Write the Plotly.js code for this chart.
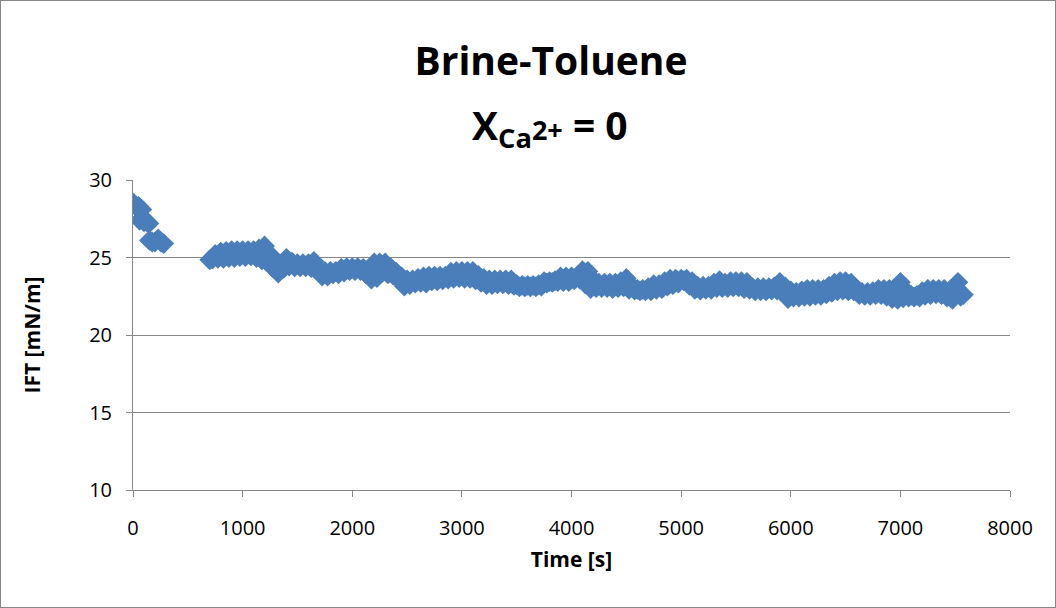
<!DOCTYPE html>
<html>
<head>
<meta charset="utf-8">
<script src="https://cdn.plot.ly/plotly-3.0.1.min.js"></script>
<style>
html,body{margin:0;padding:0;background:#fff;}
#chart{width:1054px;height:606px;border:1px solid #868686;}
</style>
</head>
<body>
<div id="chart"></div>
<script>
// Time [s]
const timeS = [
  5,25,50,60,80,100,125,145,150,175,200,230,255,280,
  700,725,750,775,800,825,850,875,900,925,
  950,975,1000,1025,1050,1075,1100,1125,1150,1175,
  1200,1225,1250,1275,1300,1325,1350,1375,1400,1425,
  1450,1475,1500,1525,1550,1575,1600,1625,1650,1675,
  1700,1725,1750,1775,1800,1825,1850,1875,1900,1925,
  1950,1975,2000,2025,2050,2075,2100,2125,2150,2175,
  2200,2225,2250,2275,2300,2325,2350,2375,2400,2425,
  2450,2475,2500,2525,2550,2575,2600,2625,2650,2675,
  2700,2725,2750,2775,2800,2825,2850,2875,2900,2925,
  2950,2975,3000,3025,3050,3075,3100,3125,3150,3175,
  3200,3225,3250,3275,3300,3325,3350,3375,3400,3425,
  3450,3475,3500,3525,3550,3575,3600,3625,3650,3675,
  3700,3725,3750,3775,3800,3825,3850,3875,3900,3925,
  3950,3975,4000,4025,4050,4075,4100,4125,4150,4175,
  4200,4225,4250,4275,4300,4325,4350,4375,4400,4425,
  4450,4475,4500,4525,4550,4575,4600,4625,4650,4675,
  4700,4725,4750,4775,4800,4825,4850,4875,4900,4925,
  4950,4975,5000,5025,5050,5075,5100,5125,5150,5175,
  5200,5225,5250,5275,5300,5325,5350,5375,5400,5425,
  5450,5475,5500,5525,5550,5575,5600,5625,5650,5675,
  5700,5725,5750,5775,5800,5825,5850,5875,5900,5925,
  5950,5975,6000,6025,6050,6075,6100,6125,6150,6175,
  6200,6225,6250,6275,6300,6325,6350,6375,6400,6425,
  6450,6475,6500,6525,6550,6575,6600,6625,6650,6675,
  6700,6725,6750,6775,6800,6825,6850,6875,6900,6925,
  6950,6975,7000,7025,7050,7075,7100,7125,7150,7175,
  7200,7225,7250,7275,7300,7325,7350,7375,7400,7425,
  7450,7475,7500,7525,7550,7575
];
// IFT [mN/m]
const iftValues = [
  28.5,28.3,28.3,27.4,28.1,27.3,27.3,27.2,26.1,26.0,26.0,26.2,26.0,25.9,
  24.85,24.9,25.2,24.95,25.35,24.95,25.4,25.0,25.45,25.0,
  25.45,25.05,25.45,25.05,25.45,25.1,25.45,25.0,25.55,24.85,
  25.75,24.7,25.2,24.35,24.55,24.0,24.55,24.3,24.95,24.45,
  24.7,24.4,24.6,24.4,24.6,24.4,24.6,24.35,24.75,24.2,
  24.15,23.8,24.1,23.8,24.1,23.95,24.1,23.95,24.3,24.05,
  24.35,24.15,24.35,24.15,24.35,24.15,24.3,23.95,24.25,23.6,
  24.65,23.7,24.65,24.05,24.65,23.95,24.35,23.85,24.05,23.6,
  23.75,23.15,23.55,23.25,23.55,23.35,23.65,23.4,23.75,23.35,
  23.8,23.5,23.8,23.5,23.8,23.55,23.8,23.6,24.05,23.65,
  24.1,23.7,24.1,23.65,24.1,23.65,24.1,23.55,23.85,23.4,
  23.65,23.25,23.55,23.25,23.55,23.3,23.55,23.3,23.55,23.25,
  23.55,23.2,23.25,23.1,23.2,23.1,23.2,23.1,23.2,23.1,
  23.25,23.15,23.45,23.35,23.45,23.4,23.5,23.45,23.75,23.45,
  23.75,23.45,23.75,23.55,23.75,23.6,24.15,23.3,24.1,23.0,
  23.55,23.05,23.35,23.05,23.35,23.05,23.35,23.0,23.35,23.05,
  23.45,23.1,23.65,22.95,23.15,22.9,22.95,22.85,22.95,22.85,
  23.05,22.85,23.25,22.95,23.25,23.0,23.45,23.15,23.6,23.25,
  23.6,23.35,23.6,23.5,23.6,23.2,23.45,22.95,23.15,22.9,
  23.15,22.95,23.15,22.95,23.35,23.05,23.5,23.05,23.35,23.05,
  23.45,23.1,23.45,23.1,23.45,23.0,23.4,22.95,23.05,22.85,
  23.05,22.85,23.05,22.85,23.05,22.9,23.1,22.9,23.4,22.8,
  23.1,22.35,22.85,22.45,22.75,22.45,22.85,22.5,22.95,22.5,
  22.95,22.55,22.95,22.55,22.95,22.65,23.15,22.75,23.35,22.85,
  23.45,22.9,23.45,22.85,23.35,22.85,22.95,22.6,22.75,22.55,
  22.75,22.55,22.8,22.6,22.95,22.6,22.95,22.5,22.95,22.35,
  22.95,22.3,23.4,22.4,22.85,22.45,22.55,22.45,22.55,22.45,
  22.8,22.55,22.95,22.6,22.95,22.65,22.95,22.6,22.95,22.45,
  22.85,22.3,23.1,23.4,22.5,22.6
];
const xTickVals = [0,1000,2000,3000,4000,5000,6000,7000,8000];
const yTickVals = [10,15,20,25,30];
const titleLine1 = 'Brine-Toluene';
const titleLine2 = 'X<sub>Ca</sub><span style="font-size:27px">2+</span> = 0';
const xTitle = 'Time [s]';
const yTitle = 'IFT [mN/m]';

const FONT = 'Open Sans, Liberation Sans, sans-serif';
const GRID = '#868686';

const trace = {
  type: 'scatter',
  mode: 'markers',
  x: timeS,
  y: iftValues,
  marker: {symbol: 'diamond', size: 16, color: '#4A7EBB', line: {width: 0}},
  hoverinfo: 'x+y'
};

const layout = {
  width: 1054, height: 606,
  margin: {l: 132, r: 45, t: 179, b: 117},
  paper_bgcolor: '#ffffff',
  plot_bgcolor: '#ffffff',
  showlegend: false,
  font: {family: FONT, color: '#000'},
  title: {
    text: '<b>' + titleLine1 + '</b>',
    font: {family: FONT, size: 39, color: '#000'},
    x: 550/1054, xref: 'container', xanchor: 'center',
    y: 1 - 60/606, yref: 'container', yanchor: 'middle'
  },
  annotations: [{
    text: '<b>' + titleLine2 + '</b>',
    xref: 'paper', yref: 'paper',
    x: (549-132)/877, y: 1 + (179-126)/310,
    xanchor: 'center', yanchor: 'middle',
    showarrow: false,
    font: {family: FONT, size: 39, color: '#000'}
  }],
  xaxis: {
    range: [0, 8000],
    tickvals: xTickVals,
    ticks: 'outside', ticklen: 6, tickcolor: GRID, tickwidth: 1,
    showline: true, linecolor: GRID, linewidth: 1,
    showgrid: false, zeroline: false,
    tickfont: {family: FONT, size: 20, color: '#000'},
    ticklabelstandoff: 14,
    title: {text: '<b>' + xTitle + '</b>', font: {family: FONT, size: 21, color: '#000'}, standoff: 12}
  },
  yaxis: {
    range: [10, 30],
    tickvals: yTickVals,
    ticks: 'outside', ticklen: 6, tickcolor: GRID, tickwidth: 1,
    showline: true, linecolor: GRID, linewidth: 1,
    showgrid: true, gridcolor: GRID, gridwidth: 1,
    zeroline: false,
    tickfont: {family: FONT, size: 20, color: '#000'},
    ticklabelstandoff: 10,
    title: {text: '<b>' + yTitle + '</b>', font: {family: FONT, size: 21, color: '#000'}, standoff: 42}
  }
};

Plotly.newPlot('chart', [trace], layout, {displayModeBar: false, staticPlot: true});
</script>
</body>
</html>
